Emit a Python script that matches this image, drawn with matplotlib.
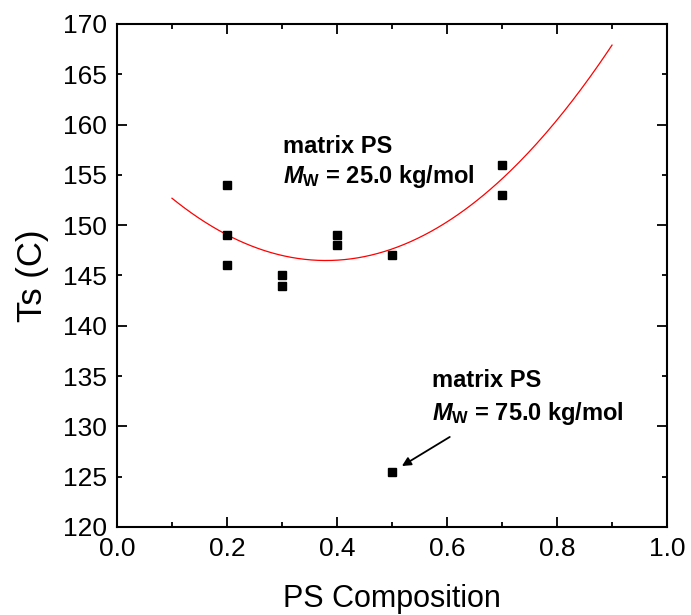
import numpy as np
import matplotlib
matplotlib.use("Agg")
import matplotlib.pyplot as plt
from matplotlib.ticker import MultipleLocator, FormatStrFormatter

plt.rcParams['font.family'] = ['Liberation Sans', 'DejaVu Sans']
plt.rcParams['mathtext.fontset'] = 'custom'
plt.rcParams['mathtext.rm'] = 'Liberation Sans:bold'
plt.rcParams['mathtext.it'] = 'Liberation Sans:italic:bold'
plt.rcParams['mathtext.bf'] = 'Liberation Sans:bold'

# matrix PS Mw = 25.0 kg/mol
comp = [0.2, 0.2, 0.2, 0.3, 0.3, 0.4, 0.4, 0.5, 0.7, 0.7]
ts = [154, 149, 146, 145, 144, 149, 148, 147, 156, 153]
# matrix PS Mw = 75.0 kg/mol
comp2 = [0.5]
ts2 = [125.5]

# 2nd order polynomial fit, drawn from 0.1 to 0.9
coef = np.polyfit(comp, ts, 2)
xfit = np.linspace(0.1, 0.9, 200)
yfit = np.polyval(coef, xfit)

fig = plt.figure(figsize=(6.91, 6.15), dpi=100)
ax = fig.add_axes([0.1693, 0.1431, 0.796, 0.8179])

ax.plot(xfit, yfit, color='red', lw=0.9)
ax.plot(comp, ts, 's', color='black', ms=6)
ax.plot(comp2, ts2, 's', color='black', ms=6)

ax.set_xlim(0, 1)
ax.set_ylim(120, 170)
ax.xaxis.set_major_locator(MultipleLocator(0.2))
ax.xaxis.set_minor_locator(MultipleLocator(0.1))
ax.xaxis.set_major_formatter(FormatStrFormatter('%.1f'))
ax.yaxis.set_major_locator(MultipleLocator(10))
ax.yaxis.set_minor_locator(MultipleLocator(5))
ax.yaxis.set_minor_formatter(FormatStrFormatter('%d'))

ax.tick_params(which='both', direction='in', top=True, right=True, width=1.3,
               labelsize=19)
ax.tick_params(which='major', length=7.5, pad=7)
ax.tick_params(which='minor', length=3.8, pad=7)
for s in ax.spines.values():
    s.set_linewidth(1.5)

ax.set_xlabel('PS Composition', fontsize=22, labelpad=17)
ax.set_ylabel('Ts (C)', fontsize=25, labelpad=10)

ax.text(0.302, 157.15, 'matrix PS', fontsize=17, fontweight='bold')
ax.text(0.302, 154.16, r'$\mathit{M}_{\mathbf{W}}$ = 25.0 kg/mol', fontsize=17,
        fontweight='bold')
ax.text(0.572, 133.95, 'matrix PS', fontsize=17, fontweight='bold')
ax.text(0.572, 130.64, r'$\mathit{M}_{\mathbf{W}}$ = 75.0 kg/mol', fontsize=17,
        fontweight='bold')

ax.annotate('', xy=(0.518, 126.06), xytext=(0.605, 128.95),
            arrowprops=dict(arrowstyle='-|>', color='black', lw=1.3,
                            mutation_scale=13, shrinkA=0, shrinkB=0))

fig.savefig('out.png', dpi=100)
